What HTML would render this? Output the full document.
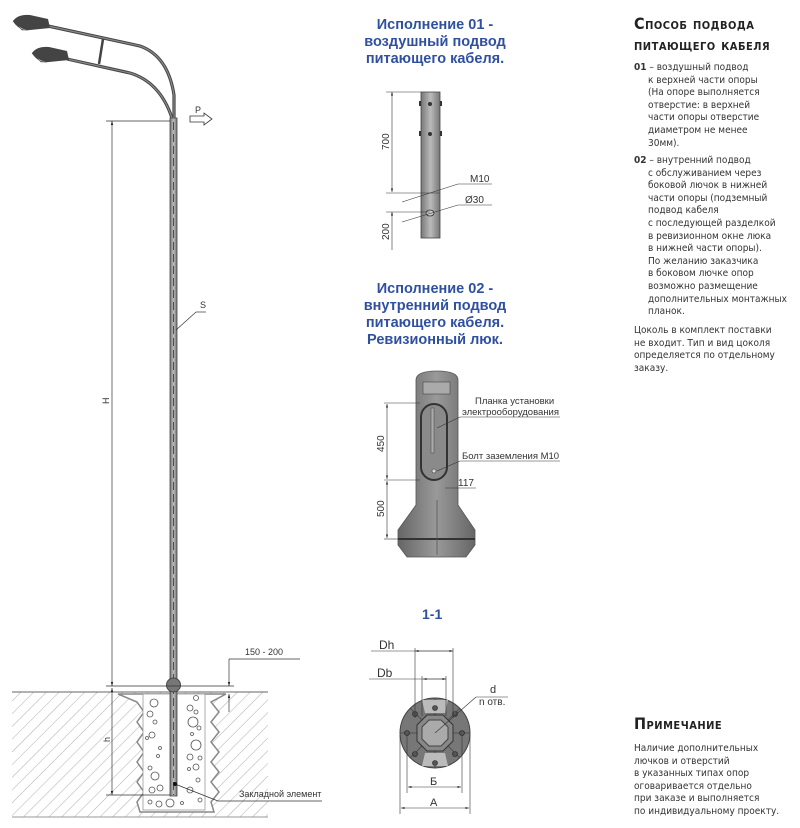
<!DOCTYPE html>
<html><head><meta charset="utf-8"><style>
body{margin:0;background:#fff;width:800px;height:828px;overflow:hidden;position:relative;font-family:"Liberation Sans",sans-serif}
.t{position:absolute;color:#2f4fa0;font-weight:bold;font-size:14.5px;text-align:center;line-height:17px}
.r{position:absolute;left:634px;font-family:"DejaVu Sans Condensed","DejaVu Sans",sans-serif;font-size:10px;line-height:12.6px;color:#333}
.h{position:absolute;left:634px;font-family:"DejaVu Sans Condensed","DejaVu Sans",sans-serif;font-size:16px;font-variant:small-caps;letter-spacing:0.5px;color:#222;font-weight:600;white-space:nowrap}
</style></head><body>
<svg width="800" height="828" style="position:absolute;left:0;top:0" font-family="Liberation Sans, sans-serif">
<defs>
<pattern id="hp" width="9" height="9" patternUnits="userSpaceOnUse" patternTransform="rotate(45)"><line x1="0" y1="0" x2="0" y2="9" stroke="#999" stroke-width="0.8"/></pattern>
<linearGradient id="pg" x1="0" x2="1"><stop offset="0" stop-color="#777"/><stop offset=".5" stop-color="#bbb"/><stop offset="1" stop-color="#777"/></linearGradient>
<linearGradient id="dg" x1="0" x2="1"><stop offset="0" stop-color="#666"/><stop offset=".5" stop-color="#999"/><stop offset="1" stop-color="#666"/></linearGradient>
<marker id="a" viewBox="0 0 10 10" refX="10" refY="5" markerWidth="6" markerHeight="6" orient="auto-start-reverse"><path d="M0,2 L10,5 L0,8z" fill="#222"/></marker>
</defs>
<rect x="12" y="692" width="256" height="125" fill="url(#hp)"/>
<line x1="12" y1="692" x2="268" y2="692" stroke="#666"/>
<line x1="12" y1="817" x2="268" y2="817" stroke="#999"/>
<polygon points="118,694 226,694 211,702 219,712 211,722 219,732 211,742 219,752 211,762 219,772 211,782 219,792 211,802 214,812 140,812 137,802 144,792 137,782 144,772 137,762 144,752 137,742 144,732 137,722 144,712 137,702" fill="#fff" stroke="#888" stroke-width="1.5"/>
<rect x="143" y="694" width="62" height="116" fill="#fff" stroke="#999" stroke-width=".8"/>
<g fill="none" stroke="#555" stroke-width=".8">
<circle cx="154" cy="703" r="4"/><circle cx="150" cy="714" r="3"/><circle cx="155" cy="722" r="2"/><circle cx="152" cy="735" r="3"/><circle cx="147" cy="738" r="1.5"/><circle cx="150" cy="768" r="2"/><circle cx="155" cy="776" r="4"/><circle cx="152" cy="790" r="3"/><circle cx="160" cy="788" r="3"/><circle cx="150" cy="802" r="2"/><circle cx="159" cy="804" r="3"/><circle cx="170" cy="803" r="4"/><circle cx="196" cy="698" r="2.5"/><circle cx="190" cy="708" r="3"/><circle cx="196" cy="712" r="2"/><circle cx="193" cy="722" r="5"/><circle cx="199" cy="728" r="2"/><circle cx="192" cy="734" r="1.5"/><circle cx="196" cy="745" r="5"/><circle cx="190" cy="757" r="3"/><circle cx="200" cy="758" r="2"/><circle cx="196" cy="767" r="3"/><circle cx="189" cy="769" r="1.5"/><circle cx="198" cy="780" r="2"/><circle cx="190" cy="790" r="3"/><circle cx="200" cy="800" r="2"/><circle cx="182" cy="803" r="1.5"/><circle cx="158" cy="756" r="1.5"/><circle cx="160" cy="748" r="1.5"/>
</g>
<rect x="170" y="118" width="7" height="678" fill="url(#pg)" stroke="#444" stroke-width=".8"/>
<line x1="173.5" y1="122" x2="173.5" y2="795" stroke="#333" stroke-width=".8" stroke-dasharray="8,4"/>
<ellipse cx="173.5" cy="685" rx="7" ry="7" fill="#777" stroke="#444"/>
<path d="M48,26 L140,46 Q168,56 174,95 L174,118" fill="none" stroke="#444" stroke-width="3.2"/>
<path d="M48,26 L140,46 Q168,56 174,95 L174,118" fill="none" stroke="#888" stroke-width="1.2"/>
<path d="M67,59 L130,73 Q160,82 172,118" fill="none" stroke="#444" stroke-width="3.2"/>
<path d="M67,59 L130,73 Q160,82 172,118" fill="none" stroke="#888" stroke-width="1.2"/>
<line x1="103" y1="39" x2="99" y2="64" stroke="#444" stroke-width="2.5"/>
<path d="M13,21 Q18,14 30,15 L48,19 L50,28 L30,30 Q22,31 13,21z" fill="#444"/>
<path d="M13,21 Q20,31 28,30 L22,30z" fill="#ddd" stroke="#444" stroke-width=".6"/>
<path d="M32,53 Q37,46 49,47 L67,51 L69,60 L49,62 Q41,63 32,53z" fill="#444"/>
<path d="M32,53 Q39,63 47,62 L41,62z" fill="#ddd" stroke="#444" stroke-width=".6"/>
<text x="195" y="113" font-size="9" fill="#333">P</text>
<path d="M190,116 L204,116 L204,113 L212,119 L204,125 L204,122 L190,122z" fill="#fff" stroke="#333" stroke-width=".8"/>
<g stroke="#333" stroke-width=".7" fill="none">
<line x1="106" y1="121" x2="170" y2="121"/>
<line x1="112" y1="121" x2="112" y2="686" marker-start="url(#a)" marker-end="url(#a)"/>
<line x1="106" y1="686" x2="234" y2="686"/>
<line x1="112" y1="688" x2="112" y2="795" marker-start="url(#a)" marker-end="url(#a)"/>
<line x1="106" y1="795" x2="170" y2="795"/>
<line x1="229" y1="659" x2="300" y2="659"/>
<line x1="229" y1="659" x2="229" y2="686" marker-end="url(#a)"/>
<line x1="229" y1="712" x2="229" y2="694" marker-end="url(#a)"/>
<line x1="175" y1="784" x2="218" y2="801"/><line x1="218" y1="801" x2="322" y2="801"/>
<line x1="176" y1="330" x2="196" y2="312"/><line x1="196" y1="312" x2="206" y2="312"/>
</g>
<circle cx="175" cy="784" r="2" fill="#111"/>
<text x="200" y="308" font-size="9" fill="#333">S</text>
<text x="0" y="0" font-size="9" fill="#333" transform="translate(109,404) rotate(-90)">H</text>
<text x="0" y="0" font-size="9" fill="#333" transform="translate(110,742) rotate(-90)">h</text>
<text x="245" y="655" font-size="9" fill="#333">150 - 200</text>
<text x="239" y="797" font-size="9" fill="#333">Закладной элемент</text>

<rect x="421" y="92" width="19" height="146" fill="url(#pg)" stroke="#444" stroke-width=".8"/>
<g fill="#333"><circle cx="430" cy="104" r="2"/><circle cx="430" cy="134" r="2"/><rect x="419" y="101" width="2" height="5"/><rect x="440" y="101" width="2" height="5"/><rect x="419" y="131" width="2" height="5"/><rect x="440" y="131" width="2" height="5"/></g>
<ellipse cx="430" cy="213" rx="4" ry="3" fill="#ccc" stroke="#333" stroke-width=".8"/>
<g stroke="#333" stroke-width=".6" fill="none">
<line x1="386" y1="92" x2="421" y2="92"/><line x1="386" y1="193" x2="440" y2="193"/><line x1="386" y1="212" x2="430" y2="212"/>
<line x1="392" y1="92" x2="392" y2="192" marker-start="url(#a)" marker-end="url(#a)"/>
<line x1="392" y1="212" x2="392" y2="250" marker-start="url(#a)"/>
<line x1="402" y1="202" x2="458" y2="184"/><line x1="458" y1="184" x2="492" y2="184"/>
<line x1="402" y1="222" x2="458" y2="205"/><line x1="458" y1="205" x2="492" y2="205"/>
</g>
<text transform="translate(389,150) rotate(-90)" font-size="10" fill="#333">700</text>
<text transform="translate(389,240) rotate(-90)" font-size="10" fill="#333">200</text>
<text x="470" y="182" font-size="10" fill="#333">M10</text>
<text x="465" y="203" font-size="10" fill="#333">Ø30</text>

<path d="M416,505 L416,380 Q416,371 437,371 Q458,371 458,380 L458,505 L475,530 L475,545 L466,557 L407,557 L398,545 L398,530z" fill="url(#dg)" stroke="#555" stroke-width=".8"/>
<rect x="423" y="382" width="27" height="12" fill="#aaa" stroke="#444" stroke-width=".6"/>
<rect x="421" y="404" width="26" height="76" rx="13" fill="#8a8a8a" stroke="#333" stroke-width="2"/>
<rect x="431" y="408" width="3" height="45" fill="#aaa" stroke="#444" stroke-width=".5"/>
<circle cx="434" cy="471" r="2" fill="#ddd" stroke="#333" stroke-width=".6"/>
<line x1="398" y1="539" x2="475" y2="539" stroke="#333" stroke-width="2"/>
<line x1="437" y1="500" x2="437" y2="555" stroke="#555" stroke-width=".8"/>
<g stroke="#333" stroke-width=".6" fill="none">
<line x1="384" y1="403" x2="420" y2="403"/><line x1="384" y1="480" x2="420" y2="480"/><line x1="384" y1="539" x2="398" y2="539"/>
<line x1="387" y1="404" x2="387" y2="479" marker-start="url(#a)" marker-end="url(#a)"/>
<line x1="387" y1="481" x2="387" y2="538" marker-start="url(#a)" marker-end="url(#a)"/>
<line x1="437" y1="428" x2="460" y2="417"/><line x1="460" y1="417" x2="560" y2="417"/>
<line x1="437" y1="471" x2="460" y2="461"/><line x1="460" y1="461" x2="560" y2="461"/>
<line x1="445" y1="488" x2="476" y2="488"/>
</g>
<text transform="translate(384,452) rotate(-90)" font-size="10" fill="#333">450</text>
<text transform="translate(384,517) rotate(-90)" font-size="10" fill="#333">500</text>
<text x="475" y="404" font-size="9.5" fill="#333">Планка установки</text>
<text x="462" y="415" font-size="9.5" fill="#333">электрооборудования</text>
<text x="462" y="459" font-size="9.5" fill="#333">Болт заземления M10</text>
<text x="458" y="486" font-size="10" fill="#333">117</text>

<text x="422" y="619" font-size="14" font-weight="bold" fill="#2f4fa0">1-1</text>
<circle cx="435" cy="733" r="35" fill="#777" stroke="#444"/>
<g stroke="#444" stroke-width=".8"><line x1="435" y1="698" x2="435" y2="768"/><line x1="400" y1="733" x2="470" y2="733"/><line x1="410" y1="708" x2="460" y2="758"/><line x1="460" y1="708" x2="410" y2="758"/></g>
<g fill="#bbb"><path d="M422,700 L448,700 L445,713 L425,713z"/><path d="M422,766 L448,766 L445,753 L425,753z"/></g>
<polygon points="427,715 443,715 453,725 453,741 443,751 427,751 417,741 417,725" fill="#888" stroke="#333"/>
<polygon points="429,720 441,720 448,727 448,739 441,746 429,746 422,739 422,727" fill="#aaa" stroke="#444"/>
<g fill="#555" stroke="#222" stroke-width=".6"><circle cx="435" cy="708" r="2.5"/><circle cx="435" cy="763" r="2.5"/><circle cx="407" cy="733" r="2.5"/><circle cx="462" cy="733" r="2.5"/><circle cx="415" cy="714" r="2.5"/><circle cx="455" cy="714" r="2.5"/><circle cx="415" cy="754" r="2.5"/><circle cx="455" cy="754" r="2.5"/></g>
<g stroke="#333" stroke-width=".6" fill="none">
<line x1="371" y1="651" x2="453" y2="651"/><line x1="415" y1="651" x2="453" y2="651" marker-start="url(#a)" marker-end="url(#a)"/>
<line x1="415" y1="648" x2="415" y2="718"/><line x1="453" y1="648" x2="453" y2="718"/>
<line x1="369" y1="679" x2="446" y2="679"/><line x1="423" y1="679" x2="446" y2="679" marker-start="url(#a)" marker-end="url(#a)"/>
<line x1="422" y1="676" x2="422" y2="716"/><line x1="446" y1="676" x2="446" y2="716"/>
<line x1="407" y1="735" x2="407" y2="793"/><line x1="462" y1="735" x2="462" y2="793"/>
<line x1="408" y1="787" x2="461" y2="787" marker-start="url(#a)" marker-end="url(#a)"/>
<line x1="400" y1="735" x2="400" y2="814"/><line x1="470" y1="735" x2="470" y2="814"/>
<line x1="401" y1="808" x2="469" y2="808" marker-start="url(#a)" marker-end="url(#a)"/>
<line x1="435" y1="733" x2="476" y2="697"/><line x1="476" y1="697" x2="508" y2="697"/>
</g>
<text x="379" y="649" font-size="12" fill="#333">Dh</text>
<text x="377" y="677" font-size="12" fill="#333">Db</text>
<text x="490" y="693" font-size="11" fill="#333">d</text>
<text x="479" y="705" font-size="10" fill="#333">n отв.</text>
<text x="430" y="785" font-size="11" fill="#333">Б</text>
<text x="430" y="806" font-size="11" fill="#333">A</text>
</svg>

<div class="t" style="left:360px;top:17px;width:150px">Исполнение 01 -<br>воздушный подвод<br>питающего кабеля.</div>
<div class="t" style="left:350px;top:281px;width:170px">Исполнение 02 -<br>внутренний подвод<br>питающего кабеля.<br>Ревизионный люк.</div>

<div class="h" style="top:14px">Способ подвода</div>
<div class="h" style="top:35px">питающего кабеля</div>
<div class="r" style="top:62px"><b>01</b> – воздушный подвод<br><span style="padding-left:14px">к верхней части опоры</span><br><span style="padding-left:14px">(На опоре выполняется</span><br><span style="padding-left:14px">отверстие: в верхней</span><br><span style="padding-left:14px">части опоры отверстие</span><br><span style="padding-left:14px">диаметром не менее</span><br><span style="padding-left:14px">30мм).</span></div>
<div class="r" style="top:155px"><b>02</b> – внутренний подвод<br><span style="padding-left:14px">с обслуживанием через</span><br><span style="padding-left:14px">боковой лючок в нижней</span><br><span style="padding-left:14px">части опоры (подземный</span><br><span style="padding-left:14px">подвод кабеля</span><br><span style="padding-left:14px">с последующей разделкой</span><br><span style="padding-left:14px">в ревизионном окне люка</span><br><span style="padding-left:14px">в нижней части опоры).</span><br><span style="padding-left:14px">По желанию заказчика</span><br><span style="padding-left:14px">в боковом лючке опор</span><br><span style="padding-left:14px">возможно размещение</span><br><span style="padding-left:14px">дополнительных монтажных</span><br><span style="padding-left:14px">планок.</span></div>
<div class="r" style="top:325px">Цоколь в комплект поставки<br>не входит. Тип и вид цоколя<br>определяется по отдельному<br>заказу.</div>
<div class="h" style="top:714px">Примечание</div>
<div class="r" style="top:743px">Наличие дополнительных<br>лючков и отверстий<br>в указанных типах опор<br>оговаривается отдельно<br>при заказе и выполняется<br>по индивидуальному проекту.</div>
</body></html>
